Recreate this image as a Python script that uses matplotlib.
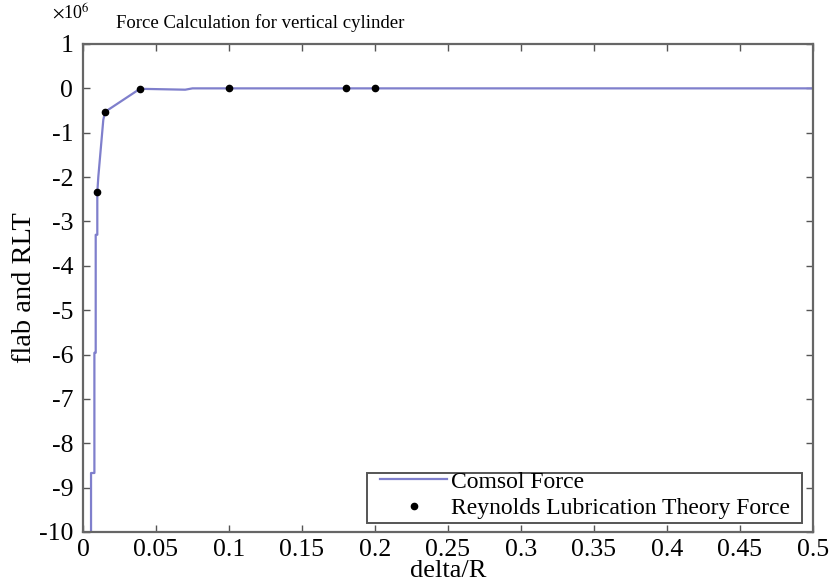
import matplotlib
matplotlib.use("Agg")
import matplotlib.pyplot as plt
from matplotlib.lines import Line2D
from matplotlib.patches import Rectangle

plt.rcParams['font.family'] = ['Liberation Serif', 'DejaVu Serif']
plt.rcParams['axes.unicode_minus'] = False
plt.rcParams['mathtext.fontset'] = 'stix'

# Comsol force curve (units of 1e6)
comsol_x = [0.0055, 0.0055, 0.0078, 0.0078, 0.0087, 0.0087, 0.0098, 0.0098,
            0.0105, 0.0139, 0.0151, 0.039, 0.07, 0.075, 0.1, 0.18, 0.2, 0.5]
comsol_y = [-10.0, -8.67, -8.67, -5.96, -5.96, -3.3, -3.3, -2.34,
            -1.99, -0.71, -0.53, -0.01, -0.03, 0.0, 0.0, 0.0, 0.0, 0.0]

# Reynolds lubrication theory points (units of 1e6)
rlt_x = [0.0098, 0.0151, 0.039, 0.1, 0.18, 0.2]
rlt_y = [-2.34, -0.53, -0.01, 0.0, 0.0, 0.0]

xticks = [0, 0.05, 0.1, 0.15, 0.2, 0.25, 0.3, 0.35, 0.4, 0.45, 0.5]
xtick_labels = ['0', '0.05', '0.1', '0.15', '0.2', '0.25', '0.3', '0.35', '0.4', '0.45', '0.5']
yticks = list(range(-10, 2))

W, H = 837, 587
fig = plt.figure(figsize=(W/100, H/100), dpi=100)
ax = fig.add_axes([83/W, 1-532/H, 730/W, 488/H])

line_color = '#7f7fcc'
ax.plot(comsol_x, comsol_y, color=line_color, lw=1.6, zorder=2)
ax.plot(rlt_x, rlt_y, linestyle='none', marker='o', markersize=4.5, color='black', zorder=3)

ax.set_xlim(0, 0.5)
ax.set_ylim(-10, 1)
ax.set_xticks(xticks)
ax.set_xticklabels(xtick_labels)
ax.set_yticks(yticks)
ax.tick_params(direction='in', length=5, width=1, top=True, right=True,
               labelsize=18.5, color='#555555', pad=5)
ax.tick_params(axis='y', pad=7)
for s in ax.spines.values():
    s.set_color('#666666')
    s.set_linewidth(1.6)

ax.set_xlabel('delta/R', fontsize=19, va='top')
ax.xaxis.set_label_coords(0.5, -0.058)
ax.set_ylabel('flab and RLT', fontsize=20.5, va='center')
ax.yaxis.set_label_coords(-(83-25)/730, 0.5)

fig.text(260/W, 1-23/H, 'Force Calculation for vertical cylinder', fontsize=13.5,
         ha='center', va='center')
fig.text(52/W, 1-12/H, r'$\times$10$^6$', fontsize=13, ha='left', va='center')

# legend box (MATLAB style, tight)
x0, x1 = (367-83)/730, (802-83)/730
y0, y1 = (532-523)/488, (532-473)/488
ax.add_patch(Rectangle((x0, y0), x1-x0, y1-y0, transform=ax.transAxes,
                       facecolor='white', edgecolor='#555555', lw=1.4, zorder=5))
handles = [Line2D([], [], color=line_color, lw=1.6),
           Line2D([], [], linestyle='none', marker='o', markersize=4.5, color='black')]
leg = ax.legend(handles, ['Comsol Force', 'Reynolds Lubrication Theory Force'],
                loc='upper left', bbox_to_anchor=((380-83)/730, (532-471)/488),
                fontsize=17, frameon=False,
                handlelength=2.85, handletextpad=0.15, labelspacing=0.22,
                borderpad=0.0, borderaxespad=0.0)
leg.set_zorder(6)

fig.savefig('out.png', dpi=100)
